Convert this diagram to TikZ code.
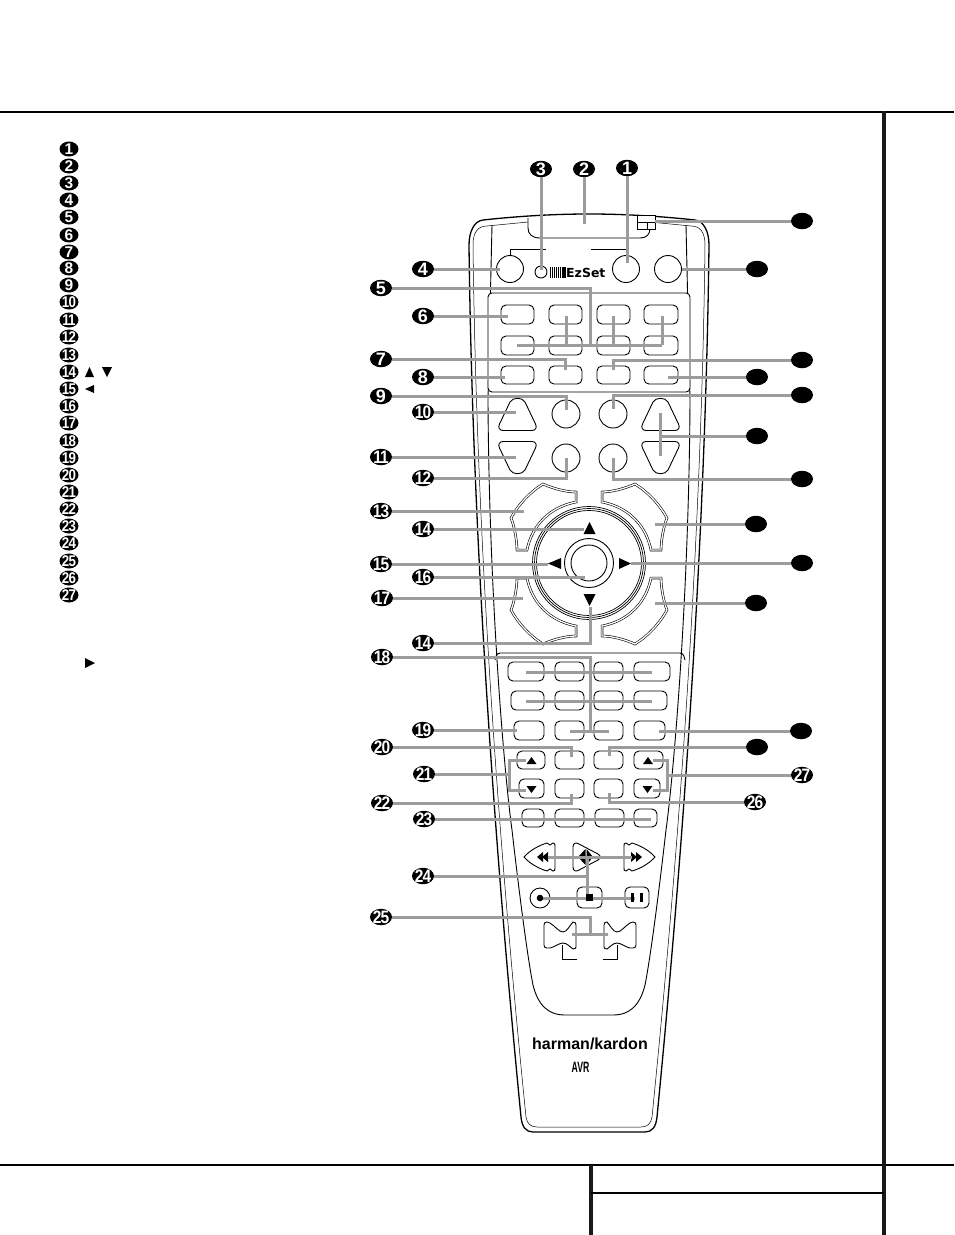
\documentclass[tikz,border=0pt]{standalone}
\usepackage{graphicx}
\usepackage{fontspec}
\setmainfont{Liberation Sans}
\newfontfamily\bdgfont[LetterSpace=-6]{Liberation Sans}
\newfontfamily\ezfont{DejaVu Sans}
\usetikzlibrary{shapes.geometric}
\definecolor{leadc}{HTML}{9C9C9C}
\newcommand\num[1]{\raisebox{-0.36em}[0pt][0pt]{\makebox[0pt]{\color{white}\ifnum#1>9 \scalebox{.86}[1]{#1}\else #1\fi}}}
\newcommand\btn[5]{\node[btnbox,minimum width={#4-#2},minimum height={#5-#3}] (#1) at ({(#2+#4)/2},{(#3+#5)/2}) {};}
\newcommand\cornerbtn{\draw[dbl] (517,550) -- (527,550) .. controls (532,525) and (550,507) .. (576,502) -- (576,492) .. controls (565,492) and (552,488) .. (543,484) .. controls (530,492) and (518,505) .. (511,518) .. controls (514,525) and (517,540) .. (517,550) -- cycle;}
\newcommand\trianglebtn{\draw[ln] (510,402) .. controls (513,397) and (522,397) .. (525,402) -- (535.5,424) .. controls (537.5,428) and (535,430.5) .. (532,430.5) -- (503,430.5) .. controls (500,430.5) and (497.5,428) .. (499.5,424) -- cycle;}
\newcommand\rewbtn{\draw[ln] (524,857) .. controls (530,850) and (540,845) .. (547,843) -- (550,845) -- (553,843) .. controls (555,843) and (555,844) .. (555,846) -- (555,868) .. controls (555,870) and (555,871) .. (553,871) -- (550,869) -- (547,871) .. controls (540,869) and (530,864) .. (524,857) -- cycle;
\fill (537,857) -- (543,852) -- (543,862) -- cycle;
\fill (542,857) -- (548,852) -- (548,862) -- cycle;}
\newcommand\bonebtn{\draw[ln] (547,922) -- (550,923) .. controls (555,926) and (559,932) .. (563,932) .. controls (567,932) and (570,925) .. (573,922) .. controls (575,922) and (576,923) .. (576,925) -- (576,947) .. controls (576,948) and (575,949) .. (573,949) .. controls (570,947) and (567,943) .. (563,943) .. controls (559,943) and (555,947) .. (550,948) -- (547,948) .. controls (545,948) and (544,947) .. (544,945) -- (544,925) .. controls (544,923) and (545,922) .. (547,922) -- cycle;}
\tikzset{
  ln/.style={black,line width=0.9pt},
  thinln/.style={black,line width=0.5pt},
  dbl/.style={black,line width=0.6pt,double=white,double distance=1.3pt},
  btnbox/.style={draw=black,line width=0.9pt,rounded corners=5pt,inner sep=0pt,outer sep=0pt},
  roundbtn/.style={draw=black,line width=0.9pt,circle,inner sep=0pt,outer sep=0pt},
  leader/.style={draw=leadc,line width=3pt},
  badge/.style={ellipse,fill=black,inner sep=0pt,minimum width=22pt,minimum height=16.5pt,font=\bdgfont\bfseries\fontsize{18}{18}\selectfont},
  lbadge/.style={ellipse,fill=black,inner sep=0pt,minimum width=19pt,minimum height=15pt,font=\bdgfont\bfseries\fontsize{15.5}{15.5}\selectfont},
  frame/.style={line width=2pt,black},
  frameh/.style={line width=4.7pt,black!90},
}
\begin{document}
\begin{tikzpicture}[x=1pt,y=-1pt]
\useasboundingbox (0,0) rectangle (954,1235);
\fill[white] (0,0) rectangle (954,1235);
% page frame
\draw[frame] (0,112) -- (954,112);
\draw[frame] (0,1165) -- (954,1165);
\draw[frameh] (884,111) -- (884,1235);
\draw[frameh] (591,1165) -- (591,1235);
\draw[frame] (591,1193) -- (884,1193);
% list of keys
\foreach \i/\y in {1/149,2/166,3/183,4/200,5/217,6/235,7/252,8/268,9/285,10/302,11/320,12/337,13/355,14/372,15/389,16/406,17/423,18/441,19/458,20/475,21/492,22/509,23/526,24/543,25/561,26/578,27/595}
  \node[lbadge] (l\i) at (69,\y) {\num{\i}};
\fill (89.5,367) -- (94,377) -- (85,377) -- cycle;
\fill (102,367) -- (112,367) -- (107,377) -- cycle;
\fill (85,389) -- (94,385) -- (94,393) -- cycle;
\fill (85,658) -- (95,663) -- (85,668) -- cycle;
% remote body
\draw[black,line width=1.3pt] (483,220) .. controls (520,216) and (555,214) .. (589,214) .. controls (623,214) and (658,216) .. (695,220) .. controls (704,221) and (709,232) .. (709,245) .. controls (706,500) and (688,800) .. (657,1117) .. controls (656,1127) and (652,1132) .. (645,1132) -- (533,1132) .. controls (526,1132) and (522,1127) .. (521,1117) .. controls (490,800) and (472,500) .. (469,245) .. controls (469,232) and (474,221) .. (483,220) -- cycle;
\draw[thinln] (528,222) -- (487,226) .. controls (478,226) and (473,232) .. (473,245) .. controls (476,500) and (494,800) .. (526,1117) .. controls (527,1124) and (531,1127) .. (537,1127) -- (641,1127) .. controls (647,1127) and (651,1124) .. (652,1117) .. controls (684,800) and (702,500) .. (705,245) .. controls (705,232) and (700,226) .. (691,226) -- (650,222);
\draw[ln] (492,225) -- (488,400) .. controls (489,600) and (505,780) .. (512,830) .. controls (520,900) and (528,960) .. (533,985) .. controls (538,1005) and (548,1015) .. (565,1015) -- (613,1015) .. controls (630,1015) and (640,1005) .. (645,985) .. controls (650,960) and (658,900) .. (666,830) .. controls (673,780) and (689,600) .. (690,400) -- (686,225);
\draw[ln] (528,218) -- (528,228) .. controls (528,234) and (532,238) .. (540,238) -- (640,238) .. controls (647,238) and (650,234) .. (650,228);
% top corner window
\draw[ln,fill=white] (637,215) rectangle (655,229);
\draw[ln] (637,222) -- (655,222) (647,222) -- (647,229);
% top row
\draw[ln] (510,256) -- (510,249) -- (546,249);
\draw[ln] (591,249) -- (627,249) -- (627,256);
\node[roundbtn,minimum size=27pt] (c4) at (510,269) {};
\node[roundbtn,minimum size=27pt] (c1) at (626,269) {};
\node[roundbtn,minimum size=27pt] (cR) at (668,269) {};
\node[roundbtn,minimum size=12pt] (c3) at (541,272) {};
\foreach \x/\w in {550.5/.4,552.5/.5,554.5/.6,556.5/.8,558.5/1,560.6/1.2,562.8/1.5,565/1.8}
  \draw[black,line width=\w pt] (\x,267) -- (\x,278);
\node[anchor=base west,inner sep=0pt,font=\ezfont\bfseries\fontsize{12.5}{12.5}\selectfont] (ez) at (566,277) {EzSet};
% upper key block
\draw[ln,fill=white,rounded corners=4pt] (488,293) rectangle (690,392);
\btn{a1}{501}{305}{534}{324}\btn{a2}{549}{305}{582}{324}\btn{a3}{597}{305}{630}{324}\btn{a4}{644}{305}{678}{324}
\btn{a5}{501}{336}{534}{355}\btn{a6}{549}{336}{582}{355}\btn{a7}{597}{336}{630}{355}\btn{a8}{644}{336}{678}{355}
\btn{a9}{501}{366}{534}{384}\btn{a10}{549}{366}{582}{384}\btn{a11}{597}{366}{630}{384}\btn{a12}{644}{366}{678}{384}
\node[roundbtn,minimum size=28pt] (d1) at (566,414) {};
\node[roundbtn,minimum size=28pt] (d2) at (613,414) {};
\node[roundbtn,minimum size=28pt] (d3) at (566,458) {};
\node[roundbtn,minimum size=28pt] (d4) at (613,458) {};
\trianglebtn
\begin{scope}[xshift=1178pt,xscale=-1]\trianglebtn\end{scope}
\begin{scope}[yshift=-872pt,yscale=-1]\trianglebtn\end{scope}
\begin{scope}[xshift=1178pt,xscale=-1,yshift=-872pt,yscale=-1]\trianglebtn\end{scope}
% navigation pad
\draw[black,line width=0.7pt] (589,563) circle (56.5) circle (54.5) circle (52.5);
\draw[black,line width=0.9pt] (589,563) circle (24.5) circle (18);
\fill (589.5,522) -- (595.5,534) -- (583.5,534) -- cycle;
\fill (583.5,594) -- (595.5,594) -- (589.5,606) -- cycle;
\fill (548,563.5) -- (561,558) -- (561,569) -- cycle;
\fill (631,563.5) -- (619,558) -- (619,569) -- cycle;
\cornerbtn
\begin{scope}[xshift=1178pt,xscale=-1]\cornerbtn\end{scope}
\begin{scope}[yshift=-1128pt,yscale=-1]\cornerbtn\end{scope}
\begin{scope}[xshift=1178pt,xscale=-1,yshift=-1128pt,yscale=-1]\cornerbtn\end{scope}
% lower key block
\draw[ln,rounded corners=3pt] (495,660) -- (497,653) -- (683,653) -- (685,660);
\btn{e1}{508}{662}{544}{681}\btn{e2}{555}{662}{584}{681}\btn{e3}{594}{662}{623}{681}\btn{e4}{634}{662}{670}{681}
\btn{e5}{511}{691}{544}{710}\btn{e6}{555}{691}{584}{710}\btn{e7}{594}{691}{623}{710}\btn{e8}{634}{691}{667}{710}
\btn{e9}{514}{721}{544}{740}\btn{e10}{555}{721}{584}{740}\btn{e11}{594}{721}{623}{740}\btn{e12}{634}{721}{665}{740}
\btn{e13}{517}{751}{545}{769}\btn{e14}{555}{751}{584}{769}\btn{e15}{594}{751}{623}{769}\btn{e16}{634}{751}{663}{769}
\btn{e17}{519}{779}{544}{798}\btn{e18}{555}{779}{584}{798}\btn{e19}{594}{779}{623}{798}\btn{e20}{634}{779}{660}{798}
\btn{e21}{522}{809}{544}{827}\btn{e22}{555}{809}{584}{827}\btn{e23}{595}{809}{624}{827}\btn{e24}{634}{809}{657}{827}
\fill (531.5,757) -- (536.5,764) -- (526.5,764) -- cycle;
\fill (648,757) -- (653,764) -- (643,764) -- cycle;
\fill (526.5,786) -- (536.5,786) -- (531.5,793) -- cycle;
\fill (642.5,786) -- (652.5,786) -- (647.5,793) -- cycle;
% transport keys
\rewbtn
\begin{scope}[xshift=1179pt,xscale=-1]\rewbtn\end{scope}
\draw[ln] (573,847) .. controls (573,843) and (576,842) .. (579,844) -- (598,854) .. controls (601,856) and (601,858) .. (598,860) -- (579,870) .. controls (576,872) and (573,871) .. (573,867) -- cycle;
\fill (578,857) -- (585.5,849) -- (585.5,865) -- cycle;
\fill (593,857) -- (586.5,849) -- (586.5,865) -- cycle;
\node[roundbtn,minimum size=20pt] (rec) at (540,898) {};
\btn{stopk}{577}{887}{602}{908}
\btn{pausek}{625}{887}{649}{908}
\bonebtn
\begin{scope}[xshift=1180pt,xscale=-1]\bonebtn\end{scope}
\draw[ln] (562,945) -- (562,959) -- (577,959);
\draw[ln] (617,945) -- (617,959) -- (603,959);
% brand
\node[inner sep=0pt,font=\bfseries\fontsize{16}{16}\selectfont] (brand) at (590,1044) {harman/kardon};
\node[inner sep=0pt,font=\bfseries\fontsize{15}{15}\selectfont] (model) at (580.5,1067) {\scalebox{.58}[1]{AVR}};
% callouts
\foreach \n/\x/\y in {3/541/169,2/584/169,1/627/168,4/423/269,5/381/288,6/423/316,7/381/359,8/423/377,9/381/396,10/423/412,11/381/457,12/423/478,13/381/511,14/423/529,15/381/564,16/423/577,17/382/598,18/382/657,19/423/730,20/382/747,21/424/774,22/382/803,23/424/819,24/423/876,25/381/917,26/755/802,27/802/775}
  \node[badge] (b\n) at (\x,\y) {\num{\n}};
\node[badge] (b14b) at (423,643) {\num{14}};
\foreach \n/\x/\y in {a/802/221,b/757/269,c/802/360,d/757/377,e/802/395,f/757/436,g/802/479,h/756/524,i/802/563,j/756/603,k/801/731,l/757/747}
  \node[badge] (r\n) at (\x,\y) {};
% connector end points
\coordinate (t1) at (627,263); \coordinate (t2) at (584,224); \coordinate (t3) at (541,270);
\coordinate (t4) at (500,269); \coordinate (t5) at (590,345); \coordinate (t5a) at (517,345); \coordinate (t5b) at (662,345);
\coordinate (t5c) at (566,316); \coordinate (t5d) at (613,316); \coordinate (t5e) at (662,316); \coordinate (t5f) at (566,345); \coordinate (t5g) at (613,345);
\coordinate (t6) at (508,316); \coordinate (t7) at (565,370); \coordinate (t8) at (505,377); \coordinate (t9) at (566,410);
\coordinate (t10) at (516,412); \coordinate (t11) at (516,457); \coordinate (t12) at (566,458); \coordinate (t13) at (524,511);
\coordinate (t14) at (584,529); \coordinate (t15) at (548,564); \coordinate (t16) at (585,577); \coordinate (t17) at (523,598);
\coordinate (t14b) at (590,607); \coordinate (t18) at (590,731); \coordinate (t18a) at (570,731); \coordinate (t18b) at (609,731);
\coordinate (t18c) at (526,672); \coordinate (t18d) at (652,672); \coordinate (t18e) at (526,701); \coordinate (t18f) at (652,701);
\coordinate (t19) at (517,730); \coordinate (t20) at (571,757); \coordinate (t21) at (509,774);
\coordinate (t21a) at (526,760); \coordinate (t21b) at (509,760); \coordinate (t21c) at (509,790); \coordinate (t21d) at (526,790);
\coordinate (t22) at (571,794); \coordinate (t23) at (651,819); \coordinate (t24) at (587,876);
\coordinate (t24a) at (548,857); \coordinate (t24b) at (632,857); \coordinate (t24c) at (587,857); \coordinate (t24d) at (587,898);
\coordinate (t24e) at (540,898); \coordinate (t24f) at (635,898);
\coordinate (t25) at (590,934); \coordinate (t25a) at (572,934); \coordinate (t25b) at (608,934);
\coordinate (t26) at (609,793); \coordinate (t27) at (667,775);
\coordinate (t27a) at (653,760); \coordinate (t27b) at (667,760); \coordinate (t27c) at (667,790); \coordinate (t27d) at (653,790);
\coordinate (ta) at (655,221); \coordinate (tb) at (682,269); \coordinate (tc) at (613,370); \coordinate (td) at (668,377);
\coordinate (te) at (613,409); \coordinate (tf) at (660,436); \coordinate (tf1) at (660,413); \coordinate (tf2) at (660,456);
\coordinate (tg) at (613,458); \coordinate (th) at (655,524); \coordinate (ti) at (631,563); \coordinate (tj) at (655,603);
\coordinate (tk) at (659,731); \coordinate (tl) at (609,756);
% connectors
\draw[leader] (b1) -- (t1); \draw[leader] (b2) -- (t2); \draw[leader] (b3) -- (t3); \draw[leader] (b4) -- (t4);
\draw[leader] (b5) -| (t5); \draw[leader] (t5a) -- (t5b); \draw[leader] (t5c) -- (t5f); \draw[leader] (t5d) -- (t5g); \draw[leader] (t5e) -- (t5b);
\draw[leader] (b6) -- (t6); \draw[leader] (b7) -| (t7); \draw[leader] (b8) -- (t8); \draw[leader] (b9) -| (t9);
\draw[leader] (b10) -- (t10); \draw[leader] (b11) -- (t11); \draw[leader] (b12) -| (t12); \draw[leader] (b13) -- (t13);
\draw[leader] (b14) -- (t14); \draw[leader] (b15) -- (t15); \draw[leader] (b16) -- (t16); \draw[leader] (b17) -- (t17);
\draw[leader] (b14b) -| (t14b); \draw[leader] (b18) -| (t18); \draw[leader] (t18a) -- (t18b); \draw[leader] (t18c) -- (t18d); \draw[leader] (t18e) -- (t18f);
\draw[leader] (b19) -- (t19); \draw[leader] (b20) -| (t20); \draw[leader] (b21) -- (t21); \draw[leader] (t21a) -- (t21b) -- (t21c) -- (t21d);
\draw[leader] (b22) -| (t22); \draw[leader] (b23) -- (t23); \draw[leader] (b24) -- (t24);
\draw[leader] (t24a) -- (t24b); \draw[leader] (t24c) -- (t24d); \draw[leader] (t24e) -- (t24f);
\draw[leader] (b25) -| (t25); \draw[leader] (t25a) -- (t25b);
\draw[leader] (b26) -| (t26); \draw[leader] (b27) -- (t27); \draw[leader] (t27a) -- (t27b) -- (t27c) -- (t27d);
\draw[leader] (ra) -- (ta); \draw[leader] (rb) -- (tb); \draw[leader] (rc) -| (tc); \draw[leader] (rd) -- (td); \draw[leader] (re) -| (te);
\draw[leader] (rf) -- (tf); \draw[leader] (tf1) -- (tf2); \draw[leader] (rg) -| (tg); \draw[leader] (rh) -- (th); \draw[leader] (ri) -- (ti); \draw[leader] (rj) -- (tj);
\draw[leader] (rk) -- (tk); \draw[leader] (rl) -| (tl);
% glyphs on the transport keys, above the connectors
\fill (540,898) circle (3.3);
\fill (586,894) rectangle (593,901);
\fill (631,893) rectangle (634,902);
\fill (639.5,893) rectangle (643,902);
\end{tikzpicture}
\end{document}
